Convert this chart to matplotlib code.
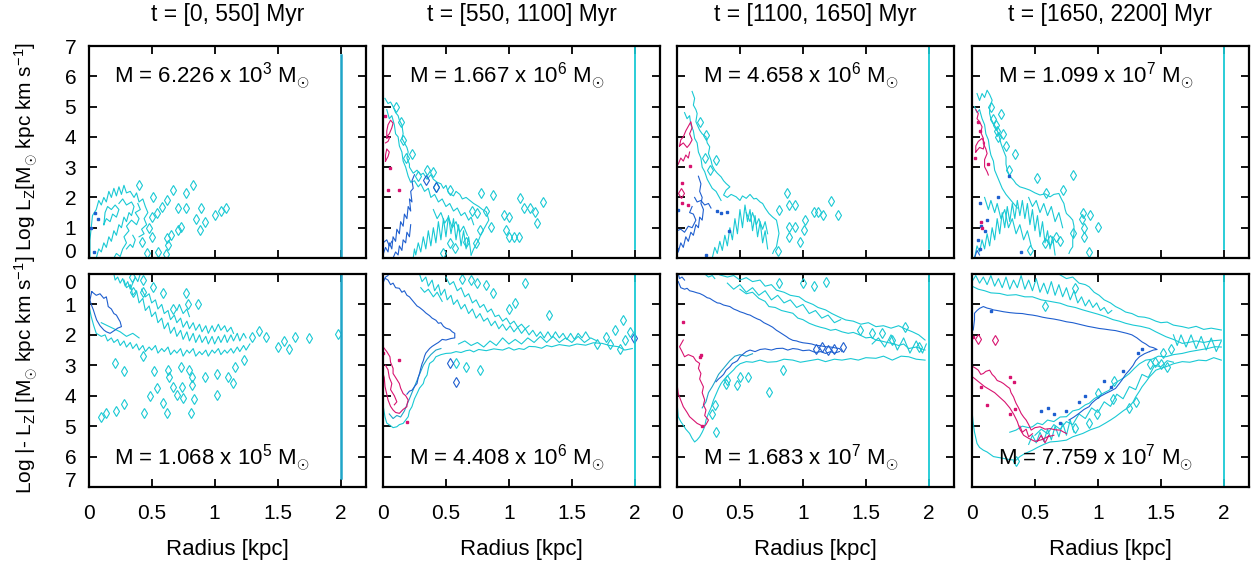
import matplotlib
matplotlib.use("Agg")
import matplotlib.pyplot as plt

plt.rcParams['font.family'] = ['Liberation Sans', 'DejaVu Sans']
plt.rcParams['mathtext.fontset'] = 'custom'
plt.rcParams['mathtext.rm'] = 'Liberation Sans'
plt.rcParams['mathtext.it'] = 'Liberation Sans:italic'
plt.rcParams['mathtext.bf'] = 'Liberation Sans:bold'

CYAN = '#19c9d4'
TEAL = '#1fa5c8'
BLUE = '#1f5fcf'
MAGENTA = '#d81470'

# textos
titles = ["t = [0, 550] Myr", "t = [550, 1100] Myr", "t = [1100, 1650] Myr", "t = [1650, 2200] Myr"]
mass_top = [("6.226", "3"), ("1.667", "6"), ("4.658", "6"), ("1.099", "7")]
mass_bot = [("1.068", "5"), ("4.408", "6"), ("1.683", "7"), ("7.759", "7")]
xticks = [0, 0.5, 1, 1.5, 2]
xticklabels = ["0", "0.5", "1", "1.5", "2"]
yticks = [0, 1, 2, 3, 4, 5, 6, 7]
# linha vertical em R = 2 kpc (y inicial, y final)
vline_top = [(0.0, 6.7), (0.3, 7.0), (0.3, 7.0), (0.3, 7.0)]
vline_bot = [(0.0, 6.7), (0.0, 7.0), (0.0, 7.0), (0.0, 7.0)]

# ---------------- painel 1 (0-550 Myr) ----------------
top1_cyan = [
    [(0.01,0.0),(0.01,0.6),(0.02,1.0),(0.03,1.4),(0.06,1.6),(0.08,1.9),(0.1,1.75),(0.12,2.0),(0.14,1.85),(0.16,2.2),(0.18,2.0),(0.2,2.3),(0.22,2.05),(0.24,2.35),(0.26,2.1),(0.28,2.4),(0.3,2.15),(0.33,2.2),(0.36,2.0),(0.38,2.15),(0.4,1.85),(0.43,1.95),(0.45,1.7),(0.47,1.5),(0.44,1.3),(0.46,1.1),(0.42,0.95),(0.44,0.8),(0.4,0.7)],
    [(0.06,0.0),(0.08,0.3),(0.1,0.2),(0.12,0.5),(0.14,0.35),(0.16,0.7),(0.18,0.55),(0.2,0.9),(0.22,0.75),(0.24,1.1),(0.26,1.0),(0.28,1.35),(0.3,1.2),(0.32,1.5),(0.34,1.4),(0.36,1.7),(0.34,1.85),(0.3,1.75),(0.27,1.95),(0.24,1.8)],
    [(0.2,0.0),(0.22,0.15),(0.25,0.05),(0.27,0.3),(0.3,0.5),(0.28,0.7),(0.32,0.9),(0.3,1.05),(0.34,1.25),(0.38,1.1),(0.4,1.3),(0.37,1.5),(0.41,1.6),(0.39,1.8)],
    [(0.12,1.1),(0.14,1.3),(0.17,1.2),(0.19,1.45),(0.22,1.35),(0.24,1.6),(0.21,1.75),(0.18,1.6),(0.15,1.7),(0.13,1.5),(0.12,1.1)],
    [(0.3,0.3),(0.33,0.45),(0.35,0.35),(0.37,0.6),(0.35,0.75)],
]
top1_cyan_d = [(0.40,2.4),(0.51,2.0),(0.67,2.24),(0.62,1.9),(0.58,1.67),(0.77,2.15),(0.83,2.4),(0.71,1.64),(0.77,1.64),(0.89,1.64),(1.0,1.42),(1.05,1.56),(1.09,1.64),(0.85,1.28),(0.92,1.2),(0.88,0.92),(0.73,1.03),(0.71,0.92),(0.65,0.75),(0.62,0.65),(0.63,0.43),(0.5,0.68),(0.42,0.53),(0.55,0.2),(0.61,0.13),(0.46,0.16),(0.5,1.35),(0.48,1.0),(0.54,1.5)]
top1_blue_pts = [(0.02,1.0),(0.05,1.5),(0.07,1.3),(0.04,0.2)]

bot1_blue = [
    [(0.024,0.58),(0.06,0.7),(0.09,0.65),(0.12,0.8),(0.14,0.75),(0.15,0.95),(0.155,1.07),(0.18,1.15),(0.2,1.3),(0.22,1.35),(0.24,1.5),(0.25,1.57),(0.26,1.73),(0.23,1.78),(0.21,1.84),(0.17,1.95),(0.14,1.9),(0.12,1.84),(0.09,1.7),(0.063,1.51),(0.05,1.35),(0.037,1.18),(0.02,1.0),(0.01,0.86),(0.024,0.58)],
]
bot1_cyan = [
    [(0.0,1.0),(0.02,1.4),(0.04,1.7),(0.06,1.95),(0.1,2.05),(0.13,2.0),(0.15,2.2),(0.18,2.1),(0.2,2.25),(0.23,2.15),(0.25,2.35),(0.28,2.2),(0.3,2.4),(0.33,2.25),(0.35,2.45),(0.38,2.3),(0.4,2.5),(0.43,2.35),(0.45,2.55),(0.48,2.4),(0.5,2.5),(0.53,2.35),(0.55,2.6),(0.58,2.45),(0.6,2.55),(0.63,2.4),(0.65,2.65),(0.68,2.5),(0.7,2.6),(0.73,2.45),(0.75,2.7),(0.78,2.5),(0.8,2.6),(0.83,2.45),(0.85,2.7),(0.88,2.55),(0.9,2.65),(0.93,2.5),(0.95,2.7),(0.98,2.5),(1.0,2.6),(1.03,2.45),(1.05,2.65),(1.08,2.5),(1.1,2.6),(1.13,2.45),(1.15,2.6),(1.18,2.4),(1.2,2.55),(1.23,2.35),(1.25,2.5),(1.28,2.3)],
    [(0.28,0.2),(0.3,0.45),(0.33,0.35),(0.35,0.7),(0.38,0.55),(0.4,0.95),(0.43,0.8),(0.45,1.2),(0.48,1.05),(0.5,1.4),(0.53,1.25),(0.55,1.6),(0.58,1.45),(0.6,1.8),(0.63,1.6),(0.65,1.95),(0.68,1.75),(0.7,2.05),(0.73,1.85),(0.75,2.15),(0.78,1.9),(0.8,2.2),(0.83,1.95),(0.85,2.25),(0.88,2.0),(0.9,2.25),(0.93,2.05),(0.95,2.3),(0.98,2.05),(1.0,2.3),(1.03,2.05),(1.05,2.25),(1.08,2.0),(1.1,2.25),(1.13,2.0),(1.15,2.2),(1.18,1.95),(1.2,2.2),(1.23,1.95),(1.25,2.1)],
    [(0.42,0.5),(0.45,0.75),(0.48,0.65),(0.5,0.95),(0.53,0.85),(0.55,1.15),(0.58,1.0),(0.6,1.3),(0.63,1.2),(0.65,1.5),(0.68,1.35),(0.7,1.6),(0.73,1.45),(0.75,1.75),(0.78,1.55),(0.8,1.8),(0.83,1.6),(0.85,1.85),(0.88,1.65),(0.9,1.9),(0.93,1.7),(0.95,1.95),(0.98,1.7),(1.0,1.9),(1.03,1.65),(1.05,1.85),(1.08,1.7),(1.1,1.9),(1.13,1.75),(1.15,1.95)],
    [(0.2,0.0),(0.21,0.2),(0.23,0.1),(0.25,0.3),(0.27,0.15),(0.29,0.4),(0.31,0.25),(0.33,0.5),(0.35,0.3),(0.37,0.1),(0.39,0.25),(0.41,0.0)],
    [(0.1,1.6),(0.15,1.7),(0.2,1.8),(0.25,1.9),(0.3,2.05),(0.35,1.95),(0.4,2.1)],
    [(0.7,1.2),(0.72,1.0),(0.75,1.3),(0.78,1.15),(0.8,1.4)],
]
bot1_cyan_d = [(0.21,2.94),(0.28,3.18),(0.43,2.7),(0.52,3.18),(0.63,3.16),(0.64,3.38),(0.73,3.05),(0.8,3.16),(0.67,3.7),(0.74,3.73),(0.82,3.38),(0.82,3.65),(0.75,4.09),(0.70,3.98),(0.84,4.12),(0.92,3.4),(1.02,3.29),(1.11,3.4),(1.15,3.57),(1.02,3.98),(1.16,3.05),(1.23,2.83),(0.54,3.76),(0.49,4.01),(0.44,4.58),(0.28,4.28),(0.22,4.5),(0.1,4.71),(0.14,4.58),(0.81,4.58),(0.59,4.25),(0.62,4.58),(1.98,1.97),(1.55,2.2),(1.59,2.45),(1.64,2.08),(1.75,2.1),(1.5,2.4),(1.41,2.08),(1.35,1.86),(1.3,2.06),(0.34,0.09),(0.43,0.2),(0.51,0.42),(0.59,0.64),(0.77,0.64),(0.79,0.97),(0.87,0.97),(0.67,1.16),(0.43,0.58),(0.35,0.58)]

# ---------------- painel 2 (550-1100 Myr) ----------------
top2_cyan = [
    [(0.016,5.27),(0.04,5.1),(0.06,5.15),(0.08,5.0),(0.1,4.8),(0.12,4.7),(0.13,4.55),(0.15,4.4),(0.16,4.1),(0.15,3.95),(0.17,3.8),(0.19,3.65),(0.2,3.5),(0.19,3.3),(0.21,3.1),(0.21,3.0),(0.24,2.8),(0.27,2.9),(0.3,2.75),(0.32,2.8),(0.35,2.6),(0.38,2.75),(0.4,2.6),(0.43,2.5),(0.46,2.45),(0.48,2.3),(0.5,2.4),(0.52,2.15),(0.56,2.05),(0.58,2.2),(0.61,2.1),(0.63,1.95),(0.66,2.0),(0.69,1.9),(0.72,1.8),(0.74,1.75),(0.76,1.7),(0.79,1.6),(0.82,1.53),(0.83,1.4),(0.84,1.25),(0.82,1.1),(0.8,0.95),(0.78,0.8),(0.76,0.6),(0.74,0.45),(0.72,0.3),(0.7,0.1)],
    [(0.03,4.9),(0.05,4.6),(0.07,4.7),(0.09,4.4),(0.1,4.1),(0.12,4.0),(0.13,3.7),(0.15,3.5),(0.16,3.2),(0.18,3.0),(0.2,2.7),(0.22,2.5),(0.25,2.55),(0.28,2.35),(0.3,2.45),(0.33,2.2),(0.36,2.3),(0.38,2.0),(0.41,2.1),(0.44,1.85),(0.47,1.95),(0.5,1.7),(0.53,1.8),(0.56,1.55),(0.59,1.65),(0.62,1.4),(0.65,1.5),(0.68,1.25),(0.7,1.35),(0.72,1.1)],
    [(0.24,0.0),(0.25,0.3),(0.26,0.1),(0.28,0.5),(0.3,0.2),(0.32,0.7),(0.34,0.3),(0.36,0.9),(0.38,0.4),(0.4,1.0),(0.42,0.5),(0.44,1.2),(0.46,0.6),(0.48,1.3),(0.5,0.7),(0.52,1.4),(0.54,0.8),(0.56,1.3),(0.58,0.6),(0.6,1.1),(0.62,0.4),(0.64,0.9),(0.66,0.3),(0.68,0.7),(0.7,0.1)],
    [(0.4,1.6),(0.43,1.3),(0.46,1.5),(0.49,1.15),(0.52,1.35),(0.55,1.0),(0.58,1.2),(0.61,0.85),(0.64,1.05),(0.67,0.75)],
]
top2_cyan_d = [(0.87,2.08),(0.96,1.42),(1.0,1.36),(0.86,1.03),(0.78,2.13),(0.82,1.55),(1.09,1.97),(1.12,1.64),(1.17,1.64),(1.21,1.53),(1.27,1.86),(1.22,1.17),(0.98,0.92),(1.0,0.7),(1.04,0.7),(1.08,0.7),(0.23,3.45),(0.4,2.85),(0.42,2.35),(0.53,2.24),(0.71,1.56),(0.75,1.5),(0.66,0.54),(0.57,0.32),(0.53,0.48),(0.48,0.18),(0.74,0.5),(0.77,0.92),(0.1,5.0),(0.14,4.5),(0.16,3.9),(0.18,3.3),(0.28,2.7),(0.35,2.9)]
top2_blue = [
    [(0.0,0.1),(0.02,0.35),(0.04,0.2),(0.05,0.5),(0.07,0.3),(0.08,0.7),(0.1,0.55),(0.11,0.95),(0.13,0.8),(0.14,1.2),(0.16,1.05),(0.17,1.45),(0.19,1.3),(0.2,1.7),(0.22,1.55),(0.21,1.95),(0.23,1.85),(0.22,2.2),(0.24,2.3),(0.23,2.55),(0.25,2.75)],
    [(0.08,0.0),(0.1,0.2),(0.12,0.1),(0.13,0.4),(0.15,0.25),(0.16,0.6),(0.18,0.5),(0.19,0.85),(0.21,0.7),(0.22,1.1)],
    [(0.0,0.5),(0.03,0.6),(0.05,0.4),(0.07,0.55)],
]
top2_blue_d = [(0.34,2.57),(0.42,2.35)]
top2_magenta = [
    [(0.03,4.0),(0.05,4.1),(0.07,4.3),(0.08,4.45),(0.06,4.55),(0.04,4.4),(0.03,4.2),(0.03,4.0)],
    [(0.02,3.2),(0.04,3.35),(0.05,3.5),(0.03,3.6),(0.02,3.4),(0.02,3.2)],
    [(0.02,3.8),(0.04,3.85),(0.055,4.0),(0.03,3.95)],
]
top2_magenta_pts = [(0.055,2.96),(0.13,2.24),(0.04,2.25),(0.015,4.7)]

bot2_blue = [
    [(0.016,0.14),(0.04,0.2),(0.06,0.35),(0.08,0.3),(0.1,0.45),(0.13,0.47),(0.15,0.6),(0.17,0.55),(0.19,0.7),(0.21,0.75),(0.23,0.85),(0.25,0.95),(0.27,1.05),(0.29,1.1),(0.32,1.2),(0.34,1.28),(0.37,1.37),(0.39,1.45),(0.42,1.52),(0.44,1.62),(0.46,1.6),(0.48,1.72),(0.5,1.78),(0.53,1.82),(0.55,1.9),(0.57,1.95),(0.57,2.1),(0.54,2.12),(0.5,2.17),(0.47,2.15),(0.44,2.25),(0.42,2.3),(0.39,2.38),(0.37,2.45),(0.35,2.55),(0.34,2.6),(0.33,2.7),(0.32,2.85),(0.31,2.95),(0.3,3.1),(0.29,3.27),(0.28,3.4),(0.27,3.6),(0.25,3.7),(0.23,3.82),(0.21,3.85),(0.19,3.95)],
    [(0.0,0.3),(0.02,0.1),(0.04,0.05)],
]
bot2_blue_d = [(0.53,2.94),(0.58,3.54),(1.99,2.1)]
bot2_magenta = [
    [(0.0,2.39),(0.03,2.55),(0.055,2.72),(0.06,2.9),(0.08,3.1),(0.08,3.27),(0.1,3.4),(0.13,3.6),(0.14,3.75),(0.16,3.93),(0.18,4.0),(0.2,4.14),(0.19,4.3),(0.19,4.36),(0.16,4.45),(0.13,4.58),(0.1,4.55),(0.08,4.47),(0.06,4.35),(0.04,4.14),(0.03,3.95),(0.016,3.7),(0.01,3.4),(0.0,3.27)],
    [(0.02,3.0),(0.04,3.15),(0.05,3.4),(0.07,3.6),(0.06,3.8),(0.09,4.0),(0.11,4.2),(0.09,4.3)],
]
bot2_magenta_pts = [(0.13,2.83),(0.19,4.86),(0.0,2.6)]
bot2_cyan = [
    [(0.0,4.3),(0.016,4.7),(0.03,4.9),(0.055,4.97),(0.08,5.05),(0.11,5.02),(0.13,4.95),(0.16,4.91),(0.18,4.8),(0.2,4.69),(0.21,4.5),(0.23,4.36),(0.25,4.1),(0.27,3.93),(0.29,3.75),(0.32,3.6),(0.33,3.45),(0.35,3.32),(0.36,3.1),(0.37,2.94),(0.4,2.85),(0.42,2.72),(0.46,2.65),(0.5,2.61),(0.54,2.6),(0.58,2.55),(0.62,2.58),(0.66,2.52),(0.69,2.5),(0.72,2.56),(0.76,2.48),(0.82,2.52),(0.88,2.46),(0.95,2.5),(1.0,2.42),(1.04,2.5),(1.08,2.45),(1.12,2.48),(1.16,2.38),(1.21,2.39),(1.26,2.44),(1.3,2.35),(1.34,2.39),(1.4,2.32),(1.48,2.37),(1.54,2.3),(1.61,2.34),(1.67,2.26),(1.74,2.28),(1.8,2.35),(1.87,2.39),(1.92,2.5),(1.98,2.45)],
    [(0.29,0.0),(0.31,0.25),(0.34,0.1),(0.36,0.4),(0.39,0.2),(0.41,0.55),(0.44,0.35),(0.46,0.7),(0.49,0.5),(0.51,0.85),(0.54,0.7),(0.56,1.0),(0.59,0.85),(0.62,1.15),(0.65,1.0),(0.68,1.3),(0.71,1.15),(0.74,1.45),(0.77,1.3),(0.8,1.55),(0.83,1.45),(0.86,1.7),(0.89,1.55),(0.92,1.8),(0.95,1.65),(0.98,1.85),(1.01,1.7),(1.04,1.9),(1.07,1.75),(1.1,1.95),(1.13,1.8),(1.16,2.0),(1.19,1.85),(1.22,2.05),(1.25,1.9),(1.28,2.1),(1.31,1.9),(1.34,2.1),(1.37,1.9),(1.4,2.1),(1.43,1.95),(1.46,2.15),(1.49,1.95),(1.52,2.15),(1.55,1.95),(1.58,2.1),(1.61,1.9),(1.64,2.1)],
    [(0.5,0.1),(0.53,0.35),(0.56,0.25),(0.59,0.55),(0.62,0.45),(0.65,0.75),(0.68,0.65),(0.71,0.95),(0.74,0.85),(0.77,1.1),(0.8,1.0),(0.83,1.25),(0.86,1.15),(0.89,1.4),(0.92,1.35),(0.95,1.55),(0.98,1.45),(1.01,1.65),(1.04,1.55),(1.07,1.75),(1.1,1.65),(1.13,1.8),(1.16,1.7)],
    [(0.6,2.3),(0.65,2.2),(0.7,2.35),(0.75,2.25),(0.8,2.4),(0.85,2.2),(0.9,2.35),(0.95,2.1),(1.0,2.3),(1.05,2.15),(1.1,2.3),(1.15,2.1),(1.2,2.25),(1.25,2.05),(1.3,2.25),(1.35,2.05),(1.4,2.25),(1.45,2.1),(1.5,2.25),(1.55,2.05),(1.6,2.25),(1.65,2.1),(1.7,2.2)],
    [(0.3,0.45),(0.33,0.6),(0.36,0.5),(0.4,0.75),(0.43,0.6),(0.47,0.9)],
]
bot2_teal = [
    [(0.05,4.6),(0.08,4.75),(0.11,4.65),(0.14,4.7),(0.17,4.5),(0.19,4.3),(0.22,4.0),(0.25,3.7),(0.28,3.4),(0.3,3.2),(0.32,3.0),(0.35,2.8),(0.38,2.65),(0.42,2.5),(0.46,2.45)],
]
bot2_cyan_d = [(0.58,2.94),(0.66,3.05),(0.77,3.16),(1.13,0.31),(0.82,0.36),(0.87,0.64),(1.32,1.35),(1.91,1.51),(1.88,2.45),(1.92,2.17),(1.96,1.9),(1.77,2.06),(1.84,1.84),(0.7,0.2),(0.75,0.3),(0.63,0.15),(1.0,1.15),(1.05,0.95),(1.7,2.3),(1.8,2.3)]

# ---------------- painel 3 (1100-1650 Myr) ----------------
top3_cyan = [
    [(0.12,5.5),(0.14,5.27),(0.13,5.05),(0.15,4.9),(0.16,4.77),(0.15,4.5),(0.18,4.22),(0.2,4.1),(0.23,4.0),(0.24,3.8),(0.26,3.67),(0.25,3.45),(0.27,3.23),(0.28,3.05),(0.3,2.9),(0.32,2.8),(0.35,2.68),(0.37,2.55),(0.39,2.46),(0.42,2.35),(0.39,2.24),(0.37,2.08),(0.4,2.0),(0.43,2.1),(0.47,2.02),(0.5,1.9),(0.52,2.05),(0.55,1.97),(0.58,2.1),(0.61,1.95),(0.63,1.97),(0.66,1.85),(0.68,1.8),(0.7,1.65),(0.73,1.47),(0.76,1.35),(0.79,1.25),(0.8,1.05),(0.81,0.81),(0.8,0.6),(0.79,0.37),(0.77,0.25),(0.76,0.15)],
    [(0.06,4.8),(0.08,4.6),(0.1,4.7),(0.11,4.4),(0.13,4.2),(0.14,3.95),(0.16,3.8),(0.17,3.5),(0.19,3.3),(0.2,3.0),(0.22,2.85),(0.24,2.6),(0.26,2.45),(0.28,2.3),(0.31,2.2),(0.33,2.05),(0.35,1.9)],
    [(0.28,0.0),(0.3,0.35),(0.32,0.15),(0.34,0.55),(0.36,0.25),(0.38,0.75),(0.4,0.4),(0.42,1.0),(0.44,0.6),(0.46,1.3),(0.48,0.8),(0.5,1.6),(0.52,1.0),(0.54,1.75),(0.56,1.2),(0.58,1.6),(0.6,0.9),(0.62,1.4),(0.64,0.7),(0.66,1.2),(0.68,0.5),(0.7,0.9),(0.72,0.3)],
    [(0.55,1.5),(0.58,1.2),(0.6,1.5),(0.63,1.1),(0.65,1.3),(0.68,0.95),(0.7,1.2),(0.72,0.8)],
]
top3_cyan_d = [(0.31,3.23),(0.23,4.06),(0.87,2.13),(0.89,1.75),(0.94,1.75),(0.81,1.58),(0.94,1.03),(0.89,1.03),(1.02,1.25),(1.01,0.92),(1.09,1.53),(1.12,1.53),(1.16,1.42),(1.22,1.89),(1.28,1.42),(0.98,0.54),(0.89,0.7),(0.8,0.24),(0.22,3.3),(0.26,2.9),(0.18,4.5)]
top3_blue = [
    [(0.01,0.2),(0.03,0.5),(0.05,0.35),(0.07,0.7),(0.09,0.55),(0.11,0.85),(0.13,0.75),(0.15,1.1),(0.17,1.0),(0.18,1.35),(0.2,1.25),(0.21,1.6),(0.19,1.8),(0.2,2.0),(0.18,2.2),(0.19,2.45),(0.17,2.7)],
    [(0.0,0.9),(0.03,0.95),(0.06,0.85),(0.09,1.05),(0.12,1.0),(0.15,1.25),(0.13,1.45),(0.1,1.5),(0.12,1.7)],
    [(0.14,2.0),(0.16,1.85),(0.19,1.9),(0.22,1.75),(0.25,1.8),(0.27,1.65)],
]
top3_blue_pts = [(0.32,1.55),(0.35,1.5),(0.4,1.52),(0.41,0.9),(0.23,0.1),(0.01,1.6),(0.0,0.3)]
top3_magenta = [
    [(0.02,3.7),(0.05,3.8),(0.08,3.65),(0.1,3.75),(0.12,3.9),(0.1,4.1),(0.12,4.3),(0.11,4.5),(0.09,4.35),(0.07,4.2),(0.05,4.0),(0.03,3.9),(0.02,3.7)],
    [(0.01,3.1),(0.03,3.3),(0.05,3.2),(0.07,3.4),(0.09,3.3),(0.1,3.5)],
]
top3_magenta_pts = [(0.04,2.46),(0.09,1.75),(0.04,1.8),(0.1,3.05)]
top3_magenta_d = [(0.03,2.15)]

bot3_blue = [
    [(0.01,0.25),(0.03,0.45),(0.06,0.5),(0.08,0.47),(0.1,0.55),(0.13,0.58),(0.16,0.62),(0.18,0.64),(0.21,0.7),(0.24,0.78),(0.26,0.8),(0.29,0.88),(0.32,0.95),(0.34,0.96),(0.37,1.02),(0.4,1.05),(0.42,1.07),(0.45,1.15),(0.48,1.2),(0.5,1.24),(0.53,1.28),(0.56,1.33),(0.58,1.35),(0.61,1.42),(0.64,1.48),(0.66,1.51),(0.69,1.6),(0.71,1.64),(0.73,1.68),(0.76,1.75),(0.79,1.85),(0.81,1.9),(0.84,1.98),(0.87,2.06),(0.89,2.12),(0.92,2.18),(0.95,2.2),(0.97,2.23),(1.0,2.26),(1.04,2.28),(1.07,2.3),(1.1,2.34),(1.14,2.36),(1.18,2.39),(1.22,2.4),(1.26,2.43),(1.29,2.45),(1.31,2.55)],
    [(1.29,2.55),(1.25,2.6),(1.22,2.55),(1.18,2.61),(1.14,2.55),(1.1,2.58),(1.05,2.5),(1.0,2.52),(0.96,2.47),(0.92,2.45),(0.88,2.5),(0.84,2.44),(0.79,2.45),(0.75,2.5),(0.7,2.46),(0.66,2.48),(0.62,2.55),(0.58,2.5),(0.55,2.55),(0.52,2.65),(0.5,2.72),(0.48,2.85),(0.46,2.9),(0.44,2.94),(0.42,3.05),(0.39,3.16),(0.37,3.3),(0.35,3.38),(0.33,3.45),(0.31,3.54)],
    [(0.01,0.0),(0.02,0.15),(0.04,0.1),(0.06,0.2)],
]
bot3_blue_d = [(1.1,2.45),(1.15,2.4),(1.2,2.5),(1.25,2.45),(1.32,2.4)]
bot3_magenta = [
    [(0.05,2.17),(0.02,2.39),(0.04,2.55),(0.06,2.72),(0.09,2.65),(0.13,2.72),(0.15,2.85),(0.18,2.94),(0.17,3.1),(0.19,3.27),(0.18,3.45),(0.21,3.71),(0.2,3.9),(0.22,4.14),(0.21,4.3),(0.23,4.47),(0.22,4.65),(0.25,4.8),(0.23,4.95),(0.21,5.02),(0.18,4.95),(0.16,4.91),(0.13,4.8),(0.1,4.69),(0.08,4.55),(0.05,4.36),(0.03,4.15),(0.01,3.93),(0.0,3.6)],
]
bot3_magenta_pts = [(0.05,1.57),(0.18,2.72),(0.19,2.65),(0.2,5.0)]
bot3_cyan = [
    [(0.0,4.2),(0.01,4.69),(0.03,4.85),(0.05,4.97),(0.07,5.1),(0.1,5.24),(0.12,5.4),(0.14,5.52),(0.16,5.45),(0.18,5.35),(0.2,5.2),(0.22,5.02),(0.23,4.8),(0.25,4.58),(0.27,4.4),(0.29,4.14),(0.31,3.95),(0.33,3.76),(0.35,3.6),(0.37,3.49),(0.4,3.35),(0.42,3.27),(0.45,3.15),(0.47,3.05),(0.5,2.95),(0.55,2.88),(0.6,2.9),(0.66,2.83),(0.72,2.9),(0.79,2.88),(0.85,2.8),(0.92,2.83),(0.98,2.9),(1.05,2.85),(1.12,2.8),(1.18,2.88),(1.25,2.8),(1.31,2.83),(1.38,2.78),(1.44,2.83),(1.5,2.75),(1.58,2.77),(1.64,2.7),(1.71,2.83),(1.78,2.7),(1.84,2.72),(1.9,2.8),(1.97,2.83)],
    [(0.34,0.03),(0.4,0.1),(0.45,0.05),(0.5,0.2),(0.55,0.12),(0.6,0.25),(0.66,0.2),(0.7,0.4),(0.75,0.35),(0.79,0.53),(0.85,0.6),(0.9,0.7),(0.97,0.75),(1.02,0.9),(1.08,1.0),(1.12,1.1),(1.18,1.18),(1.23,1.3),(1.28,1.4),(1.34,1.51),(1.4,1.55),(1.46,1.65),(1.52,1.6),(1.58,1.73),(1.64,1.7),(1.7,1.78),(1.76,1.7),(1.81,1.8),(1.87,1.9),(1.92,2.0),(1.97,2.17)],
    [(0.5,0.5),(0.55,0.65),(0.6,0.6),(0.65,0.8),(0.7,0.9),(0.73,1.07),(0.78,1.1),(0.83,1.2),(0.88,1.25),(0.92,1.29),(0.96,1.45),(1.0,1.5),(1.05,1.62),(1.1,1.7),(1.14,1.75),(1.18,1.79),(1.22,1.85),(1.26,1.82),(1.31,1.9),(1.36,1.95),(1.4,1.92),(1.45,2.0),(1.5,2.1),(1.54,2.08),(1.58,2.17),(1.62,2.2),(1.67,2.25),(1.71,2.28),(1.76,2.35),(1.8,2.3),(1.84,2.45),(1.9,2.4),(1.97,2.5)],
    [(0.4,0.3),(0.45,0.5),(0.5,0.35),(0.55,0.6),(0.6,0.45),(0.65,0.7),(0.7,0.55),(0.75,0.85),(0.8,0.7),(0.85,0.95),(0.9,0.85),(0.95,1.1),(1.0,1.0),(1.05,1.3),(1.1,1.2),(1.15,1.45),(1.2,1.35),(1.25,1.6),(1.3,1.5)],
    [(1.55,2.3),(1.6,2.1),(1.65,2.4),(1.7,2.0),(1.75,2.5),(1.8,2.1),(1.85,2.6),(1.9,2.2),(1.95,2.6),(1.98,2.3)],
    [(0.22,0.0),(0.25,0.1),(0.28,0.05),(0.3,0.15)],
]
bot3_teal = [
    [(0.2,4.4),(0.23,4.2),(0.25,3.9),(0.28,3.7),(0.3,3.55),(0.33,3.3),(0.36,3.15),(0.39,3.0),(0.42,2.85),(0.46,2.7),(0.5,2.65),(0.55,2.7),(0.6,2.62)],
]
bot3_cyan_d = [(0.73,3.87),(0.84,3.16),(0.39,3.6),(0.31,5.19),(1.18,0.25),(1.09,0.39),(1.0,0.31),(0.81,0.31),(1.81,1.73),(1.71,2.17),(1.92,2.39),(0.4,3.49),(0.48,3.65),(0.56,3.38),(0.5,3.4),(0.3,4.3),(0.28,4.6),(1.55,1.95),(1.63,1.95),(1.45,1.85)]

# ---------------- painel 4 (1650-2200 Myr) ----------------
top4_cyan = [
    [(0.04,5.43),(0.06,5.2),(0.08,5.43),(0.1,5.3),(0.12,5.54),(0.14,5.4),(0.16,5.21),(0.14,4.95),(0.14,4.77),(0.15,4.6),(0.17,4.44),(0.19,4.3),(0.21,4.11),(0.22,3.95),(0.23,3.78),(0.25,3.55),(0.27,3.34),(0.27,3.1),(0.28,2.9),(0.3,2.7),(0.33,2.57),(0.35,2.45),(0.38,2.35),(0.42,2.3),(0.46,2.24),(0.5,2.15),(0.54,2.08),(0.58,2.12),(0.62,2.02),(0.65,2.1),(0.69,2.13),(0.71,1.95),(0.73,1.8),(0.74,1.6),(0.75,1.47),(0.78,1.35),(0.8,1.25),(0.81,1.05),(0.81,0.81),(0.8,0.6),(0.8,0.37),(0.78,0.25),(0.77,0.15)],
    [(0.02,5.0),(0.04,4.8),(0.06,4.9),(0.08,4.6),(0.1,4.4),(0.11,4.1),(0.13,3.9),(0.14,3.6),(0.15,3.4),(0.17,3.2),(0.18,2.9),(0.2,2.7),(0.22,2.5),(0.24,2.3),(0.27,2.1),(0.3,1.95),(0.33,1.8),(0.36,1.65)],
    [(0.02,0.0),(0.04,0.4),(0.06,0.2),(0.08,0.6),(0.1,0.3),(0.12,0.8),(0.14,0.4),(0.16,1.0),(0.18,0.6),(0.2,1.3),(0.22,0.8),(0.24,1.5),(0.26,1.0),(0.28,1.7),(0.3,1.2),(0.32,1.8),(0.34,1.3),(0.36,1.9),(0.38,1.4),(0.4,1.9),(0.42,1.3),(0.44,1.8),(0.46,1.1),(0.48,1.6),(0.5,0.9),(0.52,1.4),(0.54,0.7),(0.56,1.2),(0.58,0.5),(0.6,0.9),(0.62,0.3),(0.64,0.7),(0.66,0.1)],
    [(0.1,2.0),(0.13,1.6),(0.15,1.9),(0.18,1.5),(0.2,1.8),(0.23,1.3),(0.26,1.6),(0.29,1.0),(0.32,1.3),(0.35,0.8),(0.38,1.1),(0.41,0.6),(0.44,0.9),(0.47,0.4)],
    [(0.45,2.0),(0.48,1.7),(0.51,1.9),(0.54,1.5),(0.57,1.8),(0.6,1.4),(0.63,1.7),(0.66,1.2),(0.69,1.5),(0.72,1.0)],
]
top4_cyan_d = [(0.23,4.77),(0.19,4.39),(0.21,4.0),(0.34,3.45),(0.29,2.9),(0.52,2.63),(0.8,2.74),(0.72,2.24),(0.59,2.13),(0.88,1.47),(0.87,1.3),(0.94,1.42),(1.0,1.03),(0.89,0.98),(0.8,0.81),(0.89,0.7),(0.62,0.59),(0.67,0.7),(0.58,0.48),(0.46,0.26),(0.93,0.21),(0.7,0.55),(0.2,4.2),(0.25,4.1),(0.15,5.0),(0.17,4.6),(0.27,3.7)]
top4_magenta = [
    [(0.03,4.9),(0.05,4.77),(0.04,4.6),(0.06,4.5),(0.08,4.33),(0.07,4.15),(0.09,3.95),(0.09,3.78),(0.11,3.6),(0.12,3.45),(0.1,3.25),(0.1,3.01),(0.12,2.85),(0.13,2.74)],
    [(0.03,3.5),(0.06,3.65),(0.09,3.6),(0.1,3.8),(0.08,3.95),(0.05,3.85),(0.03,3.7),(0.03,3.5)],
]
top4_magenta_pts = [(0.06,4.2),(0.05,4.5),(0.13,3.1),(0.07,1.2),(0.08,1.0),(0.02,3.3)]
top4_blue = [
    [(0.02,0.0),(0.04,0.25),(0.06,0.1)],
]
top4_blue_pts = [(0.06,1.8),(0.07,1.05),(0.1,0.9),(0.05,0.6),(0.39,0.21),(0.21,2.0),(0.29,2.7),(0.06,0.3),(0.12,1.25)]

bot4_blue = [
    [(0.01,1.84),(0.02,1.5),(0.02,1.29),(0.04,1.2),(0.06,1.13),(0.09,1.07),(0.12,1.12),(0.15,1.15),(0.17,1.18),(0.2,1.2),(0.25,1.24),(0.3,1.27),(0.35,1.29),(0.4,1.3),(0.44,1.33),(0.48,1.35),(0.52,1.38),(0.56,1.42),(0.6,1.45),(0.65,1.48),(0.7,1.52),(0.75,1.57),(0.8,1.6),(0.85,1.65),(0.88,1.68),(0.92,1.72),(0.96,1.75),(1.01,1.79),(1.05,1.81),(1.1,1.84),(1.14,1.86),(1.18,1.9),(1.23,1.95),(1.27,2.0),(1.31,2.1),(1.35,2.23),(1.38,2.3),(1.41,2.39),(1.44,2.42),(1.47,2.48),(1.44,2.5),(1.41,2.55)],
    [(1.41,2.55),(1.37,2.62),(1.33,2.72),(1.3,2.85),(1.28,3.0),(1.25,3.16),(1.22,3.3),(1.19,3.49),(1.17,3.6),(1.14,3.76),(1.1,3.85),(1.06,3.93),(1.02,4.02),(0.98,4.14),(0.95,4.25),(0.93,4.36),(0.89,4.45),(0.85,4.58),(0.81,4.7),(0.77,4.8)],
]
bot4_blue_pts = [(1.2,3.2),(1.1,3.7),(1.05,3.5),(0.9,4.0),(0.85,4.2),(0.75,4.5),(0.65,4.6),(0.6,4.4),(0.55,4.5),(0.7,4.9),(1.35,2.45),(1.32,2.6),(0.15,1.2)]
bot4_magenta = [
    [(0.01,3.05),(0.03,3.1),(0.05,3.16),(0.07,3.3),(0.09,3.27),(0.11,3.2),(0.14,3.16),(0.16,3.3),(0.18,3.38),(0.2,3.5),(0.23,3.55),(0.25,3.6),(0.28,3.7),(0.3,3.76),(0.31,3.9),(0.33,4.04),(0.34,4.15),(0.35,4.25),(0.37,4.4),(0.39,4.58),(0.41,4.7),(0.43,4.8),(0.45,4.95),(0.47,5.13),(0.5,5.05),(0.54,5.02),(0.58,5.1),(0.62,5.08),(0.66,5.12),(0.7,5.13),(0.73,5.2),(0.75,5.24)],
    [(0.01,3.4),(0.04,3.5),(0.07,3.6),(0.1,3.7),(0.14,3.8),(0.18,3.9),(0.22,4.05),(0.26,4.2),(0.3,4.4),(0.33,4.6),(0.36,4.85),(0.38,5.1),(0.41,5.3),(0.45,5.4),(0.5,5.5),(0.55,5.45),(0.6,5.35),(0.65,5.3)],
    [(0.38,5.0),(0.4,5.2),(0.43,5.1),(0.45,5.35),(0.48,5.25)],
    [(0.52,5.5),(0.55,5.3),(0.58,5.55),(0.61,5.3)],
]
bot4_magenta_pts = [(0.01,2.06),(0.07,3.7),(0.12,4.3),(0.3,3.4),(0.33,3.55),(0.3,4.6),(0.34,4.45)]
bot4_magenta_d = [(0.18,2.17),(0.05,2.12)]
bot4_cyan = [
    [(0.0,4.5),(0.01,4.91),(0.02,5.2),(0.04,5.57),(0.06,5.7),(0.09,5.79),(0.12,5.85),(0.17,6.0),(0.21,6.03),(0.25,6.06),(0.3,6.1),(0.35,6.12),(0.38,6.0),(0.42,5.9),(0.48,5.79),(0.52,5.7),(0.57,5.6),(0.62,5.52),(0.68,5.5),(0.75,5.46),(0.8,5.35),(0.88,5.24),(0.94,5.12),(1.01,5.02),(1.06,4.9),(1.1,4.8),(1.14,4.69),(1.2,4.5),(1.25,4.36),(1.28,4.2),(1.3,4.04),(1.33,3.85),(1.35,3.71),(1.38,3.55),(1.41,3.38),(1.44,3.25),(1.46,3.16),(1.5,3.1),(1.54,3.05),(1.6,2.95),(1.67,2.88),(1.73,2.9),(1.8,2.83),(1.86,2.85),(1.92,2.75),(1.98,2.83)],
    [(0.3,5.2),(0.35,5.13),(0.4,5.0),(0.45,5.05),(0.48,5.02),(0.52,4.9),(0.56,4.95),(0.6,4.8),(0.65,4.85),(0.7,4.7),(0.75,4.69),(0.8,4.5),(0.85,4.45),(0.9,4.3),(0.93,4.25),(0.97,4.1),(1.01,4.0),(1.05,3.9),(1.09,3.82),(1.13,3.6),(1.17,3.5),(1.21,3.4),(1.25,3.27),(1.29,3.1),(1.33,2.95),(1.38,2.83),(1.43,2.8),(1.48,2.7),(1.54,2.72),(1.6,2.65),(1.67,2.61),(1.73,2.55),(1.8,2.5),(1.87,2.45),(1.93,2.39),(1.98,2.4)],
    [(0.5,5.3),(0.55,5.1),(0.6,5.25),(0.65,4.95),(0.7,5.1),(0.75,4.85),(0.8,4.95),(0.85,4.6),(0.9,4.75),(0.95,4.4),(1.0,4.55),(1.05,4.2),(1.1,4.35),(1.15,3.95),(1.2,4.1),(1.25,3.7),(1.3,3.8),(1.35,3.3),(1.4,3.4),(1.45,3.0),(1.5,3.05),(1.55,2.85),(1.6,2.9)],
    [(0.45,5.6),(0.48,5.3),(0.51,5.55),(0.54,5.2),(0.57,5.5),(0.6,5.1),(0.63,5.45),(0.66,5.0),(0.69,5.35),(0.72,4.9),(0.75,5.3),(0.78,4.8),(0.81,5.2)],
    [(0.7,0.03),(0.75,0.15),(0.8,0.1),(0.85,0.3),(0.9,0.35),(0.93,0.42),(0.97,0.6),(1.01,0.7),(1.05,0.85),(1.1,0.95),(1.14,1.07),(1.18,1.15),(1.22,1.25),(1.27,1.3),(1.32,1.4),(1.37,1.42),(1.41,1.46),(1.46,1.55),(1.5,1.6),(1.55,1.58),(1.6,1.68),(1.67,1.73),(1.72,1.78),(1.78,1.72),(1.84,1.82),(1.9,1.78),(1.98,1.84)],
    [(0.01,0.42),(0.05,0.5),(0.1,0.55),(0.15,0.62),(0.22,0.64),(0.28,0.7),(0.35,0.68),(0.42,0.75),(0.48,0.75),(0.55,0.85),(0.62,0.9),(0.7,0.96),(0.76,1.05),(0.82,1.1),(0.88,1.18),(0.94,1.25),(1.0,1.32),(1.06,1.4),(1.12,1.5),(1.17,1.55),(1.22,1.62),(1.28,1.68),(1.34,1.72),(1.41,1.79),(1.46,1.9),(1.5,1.98),(1.54,2.06),(1.6,2.15),(1.67,2.28),(1.72,2.25),(1.78,2.2),(1.84,2.25),(1.9,2.2),(1.98,2.17)],
    [(0.0,0.25),(0.03,0.05),(0.06,0.3),(0.09,0.1),(0.12,0.35),(0.15,0.05),(0.18,0.4),(0.21,0.15),(0.24,0.45),(0.27,0.1),(0.3,0.5),(0.33,0.2),(0.36,0.45),(0.39,0.05),(0.42,0.5),(0.45,0.2),(0.48,0.55),(0.51,0.15),(0.54,0.6),(0.57,0.3),(0.6,0.65),(0.63,0.25),(0.66,0.7),(0.69,0.35),(0.72,0.75),(0.75,0.45),(0.78,0.85),(0.81,0.55),(0.84,0.95),(0.87,0.75),(0.9,1.05),(0.93,0.85),(0.96,1.1),(0.99,0.95),(1.02,1.2),(1.05,1.1),(1.08,1.3),(1.11,1.2)],
    [(1.6,2.0),(1.63,2.35),(1.66,2.0),(1.7,2.4),(1.74,2.0),(1.78,2.45),(1.82,2.05),(1.86,2.5),(1.9,2.1),(1.94,2.55),(1.98,2.2)],
]
bot4_cyan_d = [(1.41,2.95),(1.45,2.9),(1.5,2.95),(1.55,3.05),(1.13,3.5),(1.12,4.1),(0.99,4.6),(0.93,4.9),(0.82,5.05),(1.0,3.9),(0.58,1.05),(0.82,0.45),(0.35,6.15),(1.3,4.2),(1.25,4.4),(1.52,2.6),(1.58,2.45)]

# tabela de camadas por painel: (linhas, pontos, diamantes) por cor
panels_top = [
    {CYAN: (top1_cyan, [], top1_cyan_d), BLUE: ([], top1_blue_pts, [])},
    {CYAN: (top2_cyan, [], top2_cyan_d), BLUE: (top2_blue, [], top2_blue_d), MAGENTA: (top2_magenta, top2_magenta_pts, [])},
    {CYAN: (top3_cyan, [], top3_cyan_d), BLUE: (top3_blue, top3_blue_pts, []), MAGENTA: (top3_magenta, top3_magenta_pts, top3_magenta_d)},
    {CYAN: (top4_cyan, [], top4_cyan_d), BLUE: (top4_blue, top4_blue_pts, []), MAGENTA: (top4_magenta, top4_magenta_pts, [])},
]
panels_bot = [
    {CYAN: (bot1_cyan, [], bot1_cyan_d), BLUE: (bot1_blue, [], [])},
    {CYAN: (bot2_cyan, [], bot2_cyan_d), TEAL: (bot2_teal, [], []), BLUE: (bot2_blue, [], bot2_blue_d), MAGENTA: (bot2_magenta, bot2_magenta_pts, [])},
    {CYAN: (bot3_cyan, [], bot3_cyan_d), TEAL: (bot3_teal, [], []), BLUE: (bot3_blue, [], bot3_blue_d), MAGENTA: (bot3_magenta, bot3_magenta_pts, [])},
    {CYAN: (bot4_cyan, [], bot4_cyan_d), BLUE: (bot4_blue, bot4_blue_pts, []), MAGENTA: (bot4_magenta, bot4_magenta_pts, bot4_magenta_d)},
]


def draw_layers(ax, layers):
    for color, (lines, pts, diamonds) in layers.items():
        for line in lines:
            xs, ys = zip(*line)
            ax.plot(xs, ys, color=color, lw=0.8, zorder=2)
        if pts:
            xs, ys = zip(*pts)
            ax.plot(xs, ys, ls='none', marker='s', ms=1.5, color=color, zorder=2)
        if diamonds:
            xs, ys = zip(*diamonds)
            ax.plot(xs, ys, ls='none', marker='d', ms=5, mfc='none', mec=color, mew=0.8, zorder=2)


def style_axes(ax, show_x, show_y):
    ax.set_xlim(0, 2.2)
    ax.set_xticks(xticks)
    ax.set_xticklabels(xticklabels)
    ax.set_yticks(yticks)
    ax.tick_params(direction='in', top=True, right=True, length=6, width=1.3,
                   labelsize=15, labelbottom=show_x, labelleft=show_y)
    ax.tick_params(axis='x', pad=12)
    ax.tick_params(axis='y', pad=9)
    for s in ax.spines.values():
        s.set_linewidth(1.6)


fig = plt.figure(figsize=(12.58, 5.69), dpi=100)
W, H = 1258, 569
col_left = [88.7, 383, 677, 972]
ax_w = 277
top_y0, top_y1 = 46, 258
bot_y0, bot_y1 = 274, 487

for i in range(4):
    axt = fig.add_axes([col_left[i] / W, 1 - top_y1 / H, ax_w / W, (top_y1 - top_y0) / H])
    axb = fig.add_axes([col_left[i] / W, 1 - bot_y1 / H, ax_w / W, (bot_y1 - bot_y0) / H])

    axt.set_ylim(0, 7)
    axb.set_ylim(7, 0)
    style_axes(axt, False, i == 0)
    style_axes(axb, True, i == 0)

    # rotulos das pontas deslocados para dentro, como no original
    if i == 0:
        axt.yaxis.get_major_ticks()[0].label1.set_va('baseline')
        bticks = axb.yaxis.get_major_ticks()
        bticks[0].label1.set_va('top')
        bticks[-1].label1.set_va('baseline')

    draw_layers(axt, panels_top[i])
    draw_layers(axb, panels_bot[i])

    vcol = TEAL if i == 0 else CYAN
    axt.plot([2, 2], vline_top[i], color=vcol, lw=1.8 if i == 0 else 1.3, zorder=2)
    axb.plot([2, 2], vline_bot[i], color=vcol, lw=1.8 if i == 0 else 1.3, zorder=2)

    m, e = mass_top[i]
    axt.text(0.98, 6.0, "M = %s x 10$^{%s}$ M$_{\\odot}$" % (m, e), ha='center', va='center', fontsize=16, zorder=3)
    m, e = mass_bot[i]
    axb.text(0.98, 6.05, "M = %s x 10$^{%s}$ M$_{\\odot}$" % (m, e), ha='center', va='center', fontsize=16, zorder=3)

    xc = (col_left[i] + ax_w / 2) / W
    fig.text(xc, 1 - 15 / H, titles[i], ha='center', va='center', fontsize=16.5)
    fig.text(xc, 1 - 550 / H, "Radius [kpc]", ha='center', va='center', fontsize=16)

fig.text(26 / W, 1 - 147 / H, "Log L$_{\\rm Z}$[M$_{\\odot}$ kpc km s$^{-1}$]",
         rotation=90, ha='center', va='center', fontsize=15)
fig.text(26 / W, 1 - 375 / H, "Log |- L$_{\\rm Z}$| [M$_{\\odot}$ kpc km s$^{-1}$]",
         rotation=90, ha='center', va='center', fontsize=15)

fig.savefig("out.png", dpi=100)
